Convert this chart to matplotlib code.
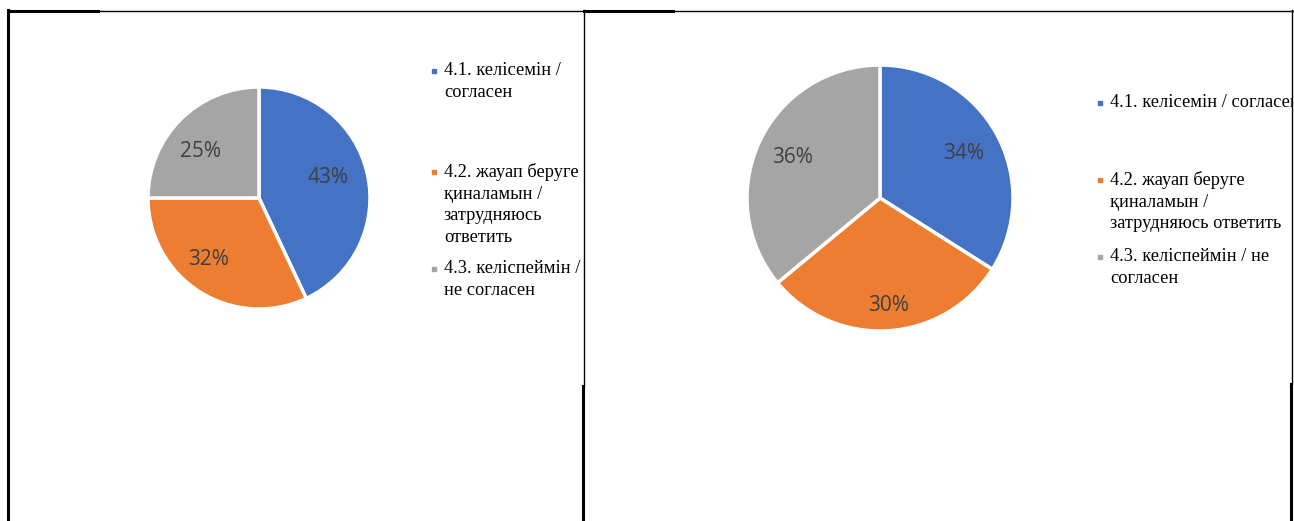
import matplotlib.pyplot as plt
from matplotlib.lines import Line2D

# data
labels_left = ["4.1. келісемін /\nсогласен",
               "4.2. жауап беруге\nқиналамын /\nзатрудняюсь\nответить",
               "4.3. келіспеймін /\nне согласен"]
labels_right = ["4.1. келісемін / согласен",
                "4.2. жауап беруге\nқиналамын /\nзатрудняюсь ответить",
                "4.3. келіспеймін / не\nсогласен"]
values_left = [43, 32, 25]
values_right = [34, 30, 36]
colors = ["#4472C4", "#ED7D31", "#A5A5A5"]

# small pixel nudges of the percent labels (Excel places them a bit differently)
nudge_left = [(-4.5, -4), (-10.5, -2), (-5.5, 7)]
nudge_right = [(4, -1), (2.5, 17), (-6, -2)]

W, H = 1294, 521
fig = plt.figure(figsize=(W / 100, H / 100), dpi=100)


def fx(px):
    return px / W


def fy(py):
    return 1 - py / H


def draw_pie(cx, cy, r, values, nudges):
    ax = fig.add_axes([fx(cx - r), fy(cy + r), 2 * r / W, 2 * r / H])
    wedges, texts, autotexts = ax.pie(
        values, colors=colors, startangle=90, counterclock=False,
        autopct="%1.0f%%", pctdistance=0.68,
        wedgeprops=dict(edgecolor="white", linewidth=2.5),
        textprops=dict(color="#404040", fontsize=15, family="Open Sans"))
    for t, (dx, dy) in zip(autotexts, nudges):
        x, y = t.get_position()
        t.set_position((x + dx / r, y - dy / r))
    ax.set_xlim(-1, 1)
    ax.set_ylim(-1, 1)
    return ax


def draw_legend(x0, x1, tx, tops, labels):
    # cell axes so that long text is clipped at the cell border
    cell = fig.add_axes([fx(x0), 0, fx(x1 - x0), 1])
    cell.set_xlim(x0, x1)
    cell.set_ylim(H, 0)
    cell.axis("off")
    for top, lab, c in zip(tops, labels, colors):
        cell.text(tx + 12, top, lab, va="top", ha="left", fontsize=13.2,
                  family="Liberation Serif", color="#000000",
                  linespacing=1.36, clip_on=True)
        cell.plot([tx + 2], [top + 9], marker="s", markersize=3.5,
                  color=c, clip_on=False)


draw_pie(259, 198, 111, values_left, nudge_left)
draw_pie(880, 198, 133, values_right, nudge_right)
draw_legend(8, 583, 432, [62, 163, 260], labels_left)
draw_legend(584, 1292, 1098, [94, 171, 248], labels_right)

# table borders
ov = fig.add_axes([0, 0, 1, 1], zorder=10)
ov.set_xlim(0, W)
ov.set_ylim(H, 0)
ov.axis("off")
ov.patch.set_alpha(0)
k = "black"
ov.add_line(Line2D([8, 1293], [10.5, 10.5], color=k, lw=1))
ov.add_line(Line2D([8, 98], [11, 11], color=k, lw=2.2))
ov.add_line(Line2D([584, 673], [11, 11], color=k, lw=2.2))
ov.add_line(Line2D([8, 8], [10, H], color=k, lw=2.2))
ov.add_line(Line2D([584, 584], [10, 386], color=k, lw=1))
ov.add_line(Line2D([583, 583], [386, H], color=k, lw=2.2))
ov.add_line(Line2D([1292, 1292], [10, 384], color=k, lw=1))
ov.add_line(Line2D([1291, 1291], [384, H], color=k, lw=2.2))

fig.savefig("out.png", dpi=100)
